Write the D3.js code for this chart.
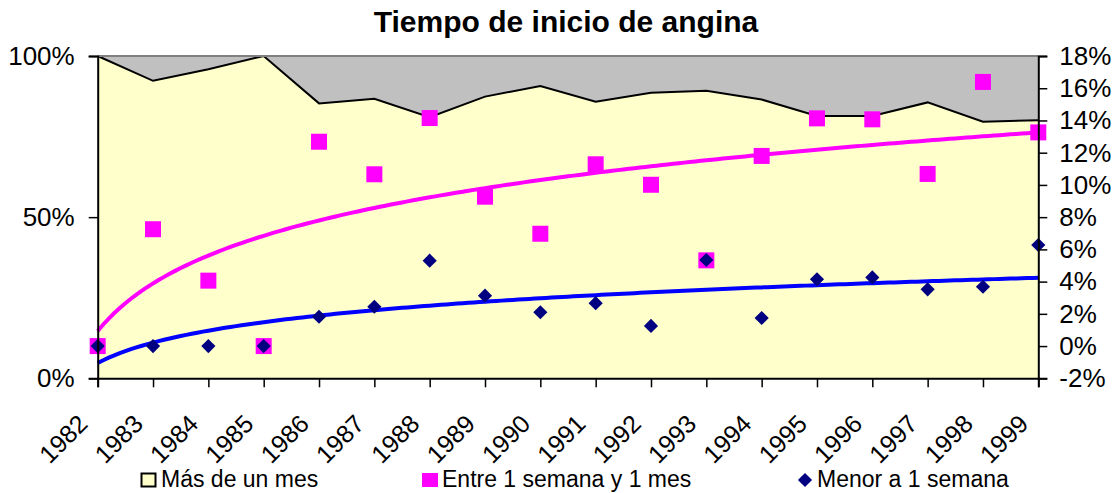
<!DOCTYPE html>
<html>
<head>
<meta charset="utf-8">
<script src="https://cdn.jsdelivr.net/npm/d3@7"></script>
<style>
  body { margin: 0; background: #fff; }
  svg { display: block; font-family: "Liberation Sans", Arial, sans-serif; }
</style>
</head>
<body>
<svg id="chart" width="1117" height="493"></svg>
<script>
const years = [1982, 1983, 1984, 1985, 1986, 1987, 1988, 1989, 1990,
  1991, 1992, 1993, 1994, 1995, 1996, 1997, 1998, 1999];

// Más de un mes (left axis, %)
const masDeUnMes = [100, 92.3, 95.9, 100, 85.3, 86.7, 81.0, 87.4, 90.7,
  85.8, 88.6, 89.2, 86.5, 81.4, 81.4, 85.6, 79.6, 80.1];

// Entre 1 semana y 1 mes (right axis, %)
const entreSemanaMes = [0, 7.25, 4.06, 0, 12.68, 10.66, 14.15, 9.27, 6.97,
  11.28, 10.01, 5.32, 11.8, 14.13, 14.07, 10.68, 16.39, 13.26];

// Menor a 1 semana (right axis, %)
const menorSemana = [0, 0, 0, 0, 1.82, 2.44, 5.3, 3.13, 2.1,
  2.66, 1.25, 5.34, 1.74, 4.14, 4.26, 3.52, 3.68, 6.27];

const leftTicks = [0, 50, 100];
const rightTicks = [-2, 0, 2, 4, 6, 8, 10, 12, 14, 16, 18];

const svg = d3.select('#chart');
const plot = { left: 97.7, right: 1038.3, top: 56, bottom: 378.3 };

const x = d3.scaleLinear().domain([1982, 1999]).range([plot.left, plot.right]);
const yL = d3.scaleLinear().domain([0, 100]).range([plot.bottom, plot.top]);
const yR = d3.scaleLinear().domain([-2, 18]).range([plot.bottom, plot.top]);

// log trendline fit (y = a ln(i) + b, i = 1..n), like the spreadsheet does
function logFit(values) {
  const l = values.map((_, i) => Math.log(i + 1));
  const ml = d3.mean(l), my = d3.mean(values);
  const a = d3.sum(l, (v, i) => (v - ml) * (values[i] - my)) / d3.sum(l, v => (v - ml) ** 2);
  return { a: a, b: my - a * ml };
}

// title
svg.append('text')
  .attr('x', 566).attr('y', 32)
  .attr('text-anchor', 'middle')
  .attr('font-size', 30).attr('font-weight', 'bold')
  .text('Tiempo de inicio de angina');

// plot background (grey)
svg.append('rect')
  .attr('x', plot.left).attr('y', plot.top)
  .attr('width', plot.right - plot.left).attr('height', plot.bottom - plot.top)
  .attr('fill', '#c0c0c0');

// area
const area = d3.area()
  .x((d, i) => x(years[i]))
  .y0(yL(0))
  .y1(d => yL(d));
svg.append('path')
  .datum(masDeUnMes)
  .attr('d', area)
  .attr('fill', '#ffffcc');
svg.append('path')
  .datum(masDeUnMes)
  .attr('d', d3.line().x((d, i) => x(years[i])).y(d => yL(d)))
  .attr('fill', 'none')
  .attr('stroke', '#000')
  .attr('stroke-width', 2);

// top border
svg.append('line')
  .attr('x1', plot.left).attr('x2', plot.right)
  .attr('y1', plot.top).attr('y2', plot.top)
  .attr('stroke', '#808080').attr('stroke-width', 2);

// trendlines
function drawTrend(values, color) {
  const f = logFit(values);
  const pts = d3.range(1, 18.001, 0.1).map(t => [x(1981 + t), yR(f.a * Math.log(t) + f.b)]);
  svg.append('path')
    .attr('d', d3.line()(pts))
    .attr('fill', 'none')
    .attr('stroke', color)
    .attr('stroke-width', 4);
}
drawTrend(entreSemanaMes, '#ff00ff');
drawTrend(menorSemana, '#0000ff');

// markers
svg.append('g').selectAll('rect')
  .data(entreSemanaMes)
  .join('rect')
  .attr('x', (d, i) => x(years[i]) - 8)
  .attr('y', d => yR(d) - 8)
  .attr('width', 16).attr('height', 16)
  .attr('fill', '#ff00ff');

const diamond = d3.symbol().type(d3.symbolDiamond2).size(128);
svg.append('g').selectAll('path')
  .data(menorSemana)
  .join('path')
  .attr('transform', (d, i) => `translate(${x(years[i])},${yR(d)})`)
  .attr('d', diamond)
  .attr('fill', '#000080');

// axes
const leftAxis = svg.append('g')
  .attr('transform', `translate(${plot.left},0)`)
  .call(d3.axisLeft(yL).tickValues(leftTicks).tickSize(9).tickPadding(14).tickFormat(d => d + '%'));
const rightAxis = svg.append('g')
  .attr('transform', `translate(${plot.right},0)`)
  .call(d3.axisRight(yR).tickValues(rightTicks).tickSize(9).tickPadding(12).tickFormat(d => d + '%'));
const bottomAxis = svg.append('g')
  .attr('transform', `translate(0,${plot.bottom})`)
  .call(d3.axisBottom(x).tickValues(years).tickSize(9).tickFormat(d => d));

[leftAxis, rightAxis, bottomAxis].forEach(g => {
  g.select('.domain').attr('stroke', '#000').attr('stroke-width', 2);
  g.selectAll('.tick line').attr('stroke', '#000').attr('stroke-width', 1.5);
  g.selectAll('text').attr('font-size', 26).attr('fill', '#000')
    .attr('font-family', '"Liberation Sans", Arial, sans-serif');
});

bottomAxis.selectAll('text')
  .attr('font-size', 25)
  .attr('text-anchor', 'end')
  .attr('dy', null)
  .attr('y', 0)
  .attr('transform', 'translate(-9,47) rotate(-45)');

// legend
const legend = svg.append('g').attr('font-size', 23);
legend.append('rect')
  .attr('x', 141.5).attr('y', 473.5).attr('width', 14).attr('height', 13)
  .attr('fill', '#ffffcc').attr('stroke', '#000').attr('stroke-width', 2);
legend.append('text').attr('x', 161).attr('y', 487).text('Más de un mes');

legend.append('rect')
  .attr('x', 422).attr('y', 473).attr('width', 16).attr('height', 14)
  .attr('fill', '#ff00ff');
legend.append('text').attr('x', 442).attr('y', 487).text('Entre 1 semana y 1 mes');

legend.append('path')
  .attr('transform', 'translate(805,480)')
  .attr('d', diamond)
  .attr('fill', '#000080');
legend.append('text').attr('x', 817).attr('y', 487).text('Menor a 1 semana');
</script>
</body>
</html>
